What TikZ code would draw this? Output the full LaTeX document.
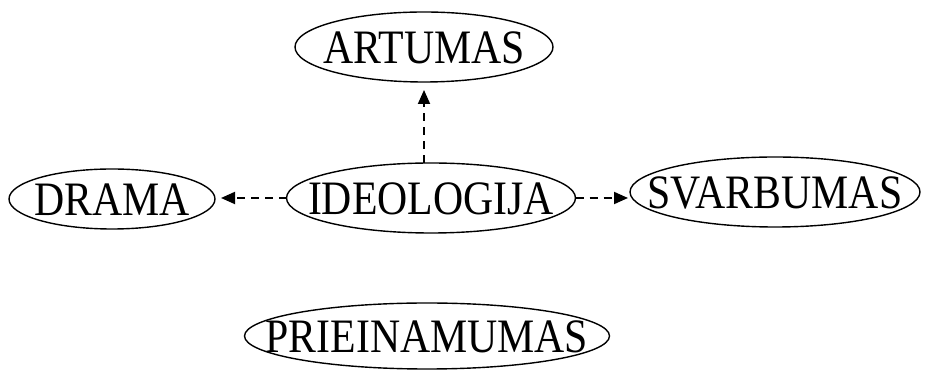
\documentclass[tikz,border=0pt]{standalone}
\usepackage{fontspec}
\setmainfont{Liberation Serif}[FakeStretch=0.87]
\usetikzlibrary{shapes.geometric,arrows.meta}
\tikzset{
  concept/.style={draw, ellipse, line width=1.4pt, inner sep=0pt, outer sep=0pt},
  caption/.style={font=\fontsize{48}{48}\selectfont, inner sep=0pt},
  link/.style={line width=1.9pt, dash pattern=on 8pt off 6pt,
    -{Triangle[length=14pt,width=12pt]}},
}
\newcommand{\conceptnode}[5]{%
  \node[concept, minimum width=#3pt, minimum height=#4pt,
        label={[caption, yshift=-1pt]center:#5}] (#1) at (#2) {};}
\begin{document}
\begin{tikzpicture}[x=1pt,y=1pt]
  \useasboundingbox (0,0) rectangle (925,371);
  \conceptnode{art}{424,324}{258}{70}{ARTUMAS}
  \conceptnode{drama}{112,172}{206}{60}{DRAMA}
  \conceptnode{ideo}{431,173}{289}{70}{IDEOLOGIJA}
  \conceptnode{svar}{775,179}{290}{70}{SVARBUMAS}
  \conceptnode{prie}{427,35}{365}{66}{PRIEINAMUMAS}

  \draw[link, shorten >=8pt] (art.south |- ideo.north) -- (art.south);
  \draw[link, shorten >=6pt] (ideo.west) -- (ideo.west -| drama.east);
  \draw[link, shorten >=2pt] (ideo.east) -- (ideo.east -| svar.west);
\end{tikzpicture}
\end{document}
